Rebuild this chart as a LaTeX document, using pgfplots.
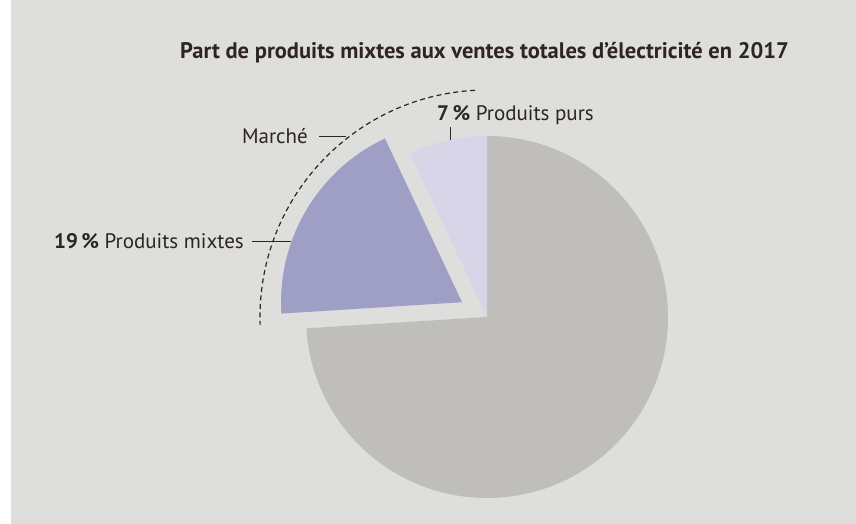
\documentclass[border=0pt]{standalone}
\usepackage{pgfplots}
\pgfplotsset{compat=1.18}
\usepackage{pgfplotstable}
\usepackage{fontspec}
\setmainfont{PT Sans}
\definecolor{bg}{RGB}{222,222,221}
\definecolor{slgray}{RGB}{191,190,188}
\definecolor{slpurple}{RGB}{159,159,198}
\definecolor{sllight}{RGB}{216,213,232}
\definecolor{txt}{RGB}{46,37,32}

\pgfplotstableread{
share label
7 purs
19 mixtes
74 autres
}\piedata
\pgfplotstablegetelem{0}{share}\of\piedata \let\vA\pgfplotsretval
\pgfplotstablegetelem{1}{share}\of\piedata \let\vB\pgfplotsretval
\pgfplotstablegetelem{2}{share}\of\piedata \let\vC\pgfplotsretval
\pgfmathsetmacro{\aZero}{90}
\pgfmathsetmacro{\aOne}{\aZero+3.6*\vA}
\pgfmathsetmacro{\aTwo}{\aOne+3.6*\vB}
\pgfmathsetmacro{\aThree}{\aTwo+3.6*\vC}
\pgfmathsetmacro{\aMidB}{(\aOne+\aTwo)/2}

\begin{document}%
\begin{tikzpicture}
\begin{axis}[
  scale only axis, width=856bp, height=524bp,
  xmin=0, xmax=856, ymin=0, ymax=524,
  hide axis, clip=false,
]
% background panel
\fill[white] (axis cs:0,0) rectangle (axis cs:856,524);
\fill[bg] (axis cs:11,0) rectangle (axis cs:856,524);
% slices (centre 487,207 ; radius 181)
\fill[slgray] (axis cs:487,207) -- ++(\aTwo:181bp) arc[start angle=\aTwo, end angle=\aThree, radius=181bp] -- cycle;
\fill[sllight] (axis cs:487,207) -- ++(\aZero:181bp) arc[start angle=\aZero, end angle=\aOne, radius=181bp] -- cycle;
\fill[slpurple] (axis cs:487,207) ++(\aMidB:29bp) -- ++(\aOne:181bp) arc[start angle=\aOne, end angle=\aTwo, radius=181bp] -- cycle;
% market dashed arc
\draw[txt, line width=1.2bp, dash pattern=on 5bp off 3.5bp] (axis cs:487,207) ++(93:227bp) arc[start angle=93, end angle=182, radius=227bp];
% leaders
\draw[txt, line width=0.9bp] (axis cs:450,397) -- (axis cs:450,384);
\draw[txt, line width=0.9bp] (axis cs:319,388) -- (axis cs:346,388);
\draw[txt, line width=0.9bp] (axis cs:252,283) -- (axis cs:291,283);
% texts
\node[txt, inner sep=0pt, font=\fontsize{22.5bp}{26bp}\selectfont\bfseries] at (axis cs:484.5,471) {Part de produits mixtes aux ventes totales d’électricité en 2017};
\node[txt, anchor=west, inner sep=0pt, font=\fontsize{21bp}{24bp}\selectfont] at (axis cs:437,409) {\textbf{7\,\%} Produits purs};
\node[txt, anchor=east, inner sep=0pt, font=\fontsize{21bp}{24bp}\selectfont] at (axis cs:308,388) {Marché};
\node[txt, anchor=east, inner sep=0pt, font=\fontsize{21bp}{24bp}\selectfont] at (axis cs:244,283) {\textbf{19\,\%} Produits mixtes};
\end{axis}
\end{tikzpicture}%
\end{document}
